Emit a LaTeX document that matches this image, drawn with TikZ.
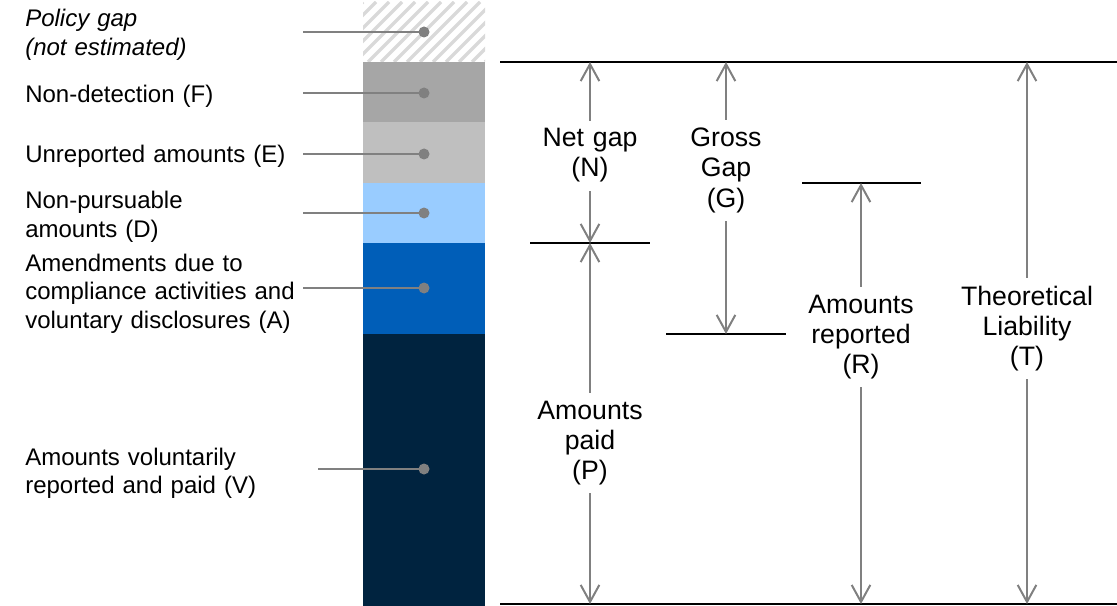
\documentclass[tikz,border=0pt]{standalone}
\usepackage{fontspec}
\setmainfont{Liberation Sans}
\usetikzlibrary{arrows.meta}
\definecolor{colF}{HTML}{A6A6A6}
\definecolor{colE}{HTML}{BFBFBF}
\definecolor{colD}{HTML}{99CCFF}
\definecolor{colA}{HTML}{005EB8}
\definecolor{colV}{HTML}{00233F}
\definecolor{hatchgray}{HTML}{D9D9D9}
\definecolor{linegray}{HTML}{808080}
\begin{document}
\begin{tikzpicture}[x=0.75pt,y=-0.75pt,
  leftlabel/.style={anchor=base west, inner sep=0pt, text width=220pt, align=left, font=\fontsize{18}{21.5}\selectfont},
  rightlabel/.style={anchor=base, fill=white, inner xsep=2pt, inner ysep=6pt, text width=105pt, align=center, font=\fontsize{20}{22.5}\selectfont},
  conn/.style={draw=linegray, line width=2pt},
  dotmark/.style={circle, fill=linegray, inner sep=0pt, minimum size=8.25pt},
  level/.style={draw=black, line width=1.9pt},
  dim/.style={draw=linegray, line width=1.5pt, {Straight Barb[length=12.75pt,width=14pt]}-{Straight Barb[length=12.75pt,width=14pt]}},
  hatch/.style={draw=hatchgray, line width=2.6pt}]
\useasboundingbox (0,0) rectangle (1117,606);

% stacked bar
\begin{scope}
  \clip (363,2) rectangle (485,62);
  \foreach \i in {0,...,14} {
    \draw[hatch] (303+13*\i,62) -- (363+13*\i,2);
  }
\end{scope}
\fill[colF] (363,62) rectangle (485,122.5);
\fill[colE] (363,122.5) rectangle (485,183);
\fill[colD] (363,183) rectangle (485,243);
\fill[colA] (363,243) rectangle (485,334);
\fill[colV] (363,334) rectangle (485,606);

% connectors and dots
\node[dotmark] (dP) at (424,32) {};
\node[dotmark] (dF) at (424,93) {};
\node[dotmark] (dE) at (424,154) {};
\node[dotmark] (dD) at (424,213) {};
\node[dotmark] (dA) at (424,288) {};
\node[dotmark] (dV) at (424,469) {};
\coordinate (sP) at (303,32);
\coordinate (sF) at (303,93);
\coordinate (sE) at (303,154);
\coordinate (sD) at (303,213);
\coordinate (sA) at (303,288);
\coordinate (sV) at (318,469);
\foreach \k in {P,F,E,D,A,V} { \draw[conn] (s\k) -- (d\k.center); }

% left labels
\node[leftlabel] (lP) at (25,27) {\itshape Policy gap\\(not estimated)};
\node[leftlabel] (lF) at (25,103) {Non-detection (F)};
\node[leftlabel] (lE) at (25,163) {Unreported amounts (E)};
\node[leftlabel] (lD) at (25,209) {Non-pursuable\\amounts (D)};
\node[leftlabel] (lA) at (25,271) {Amendments due to\\compliance activities and\\voluntary disclosures (A)};
\node[leftlabel] (lV) at (25,465) {Amounts voluntarily\\reported and paid (V)};

% level lines
\coordinate (topL) at (500,62);
\coordinate (topR) at (1117,62);
\coordinate (botL) at (500,604);
\coordinate (botR) at (1117,604);
\coordinate (netL) at (530,243);
\coordinate (netR) at (650,243);
\coordinate (grsL) at (666,334);
\coordinate (grsR) at (786,334);
\coordinate (repL) at (802,183);
\coordinate (repR) at (921,183);
\draw[level] (topL) -- (topR);
\draw[level] (botL) -- (botR);
\draw[level] (netL) -- (netR);
\draw[level] (grsL) -- (grsR);
\draw[level] (repL) -- (repR);

% arrow end points
\coordinate (nTop) at (590,62);
\coordinate (nMid) at (590,243);
\coordinate (nBot) at (590,604);
\coordinate (gTop) at (726,62);
\coordinate (gBot) at (726,334);
\coordinate (rTop) at (861,183);
\coordinate (rBot) at (861,604);
\coordinate (tTop) at (1027,62);
\coordinate (tBot) at (1027,604);
\draw[dim] (nTop) -- (nMid);
\draw[dim] (nMid) -- (nBot);
\draw[dim] (gTop) -- (gBot);
\draw[dim] (rTop) -- (rBot);
\draw[dim] (tTop) -- (tBot);

% right labels
\node[rightlabel] (labN) at (590,147) {Net gap\\(N)};
\node[rightlabel] (labG) at (726,147) {Gross\\Gap\\(G)};
\node[rightlabel] (labP) at (590,419) {Amounts\\paid\\(P)};
\node[rightlabel] (labR) at (861,313) {Amounts\\reported\\(R)};
\node[rightlabel] (labT) at (1027,305) {Theoretical\\Liability\\(T)};
\end{tikzpicture}
\end{document}
